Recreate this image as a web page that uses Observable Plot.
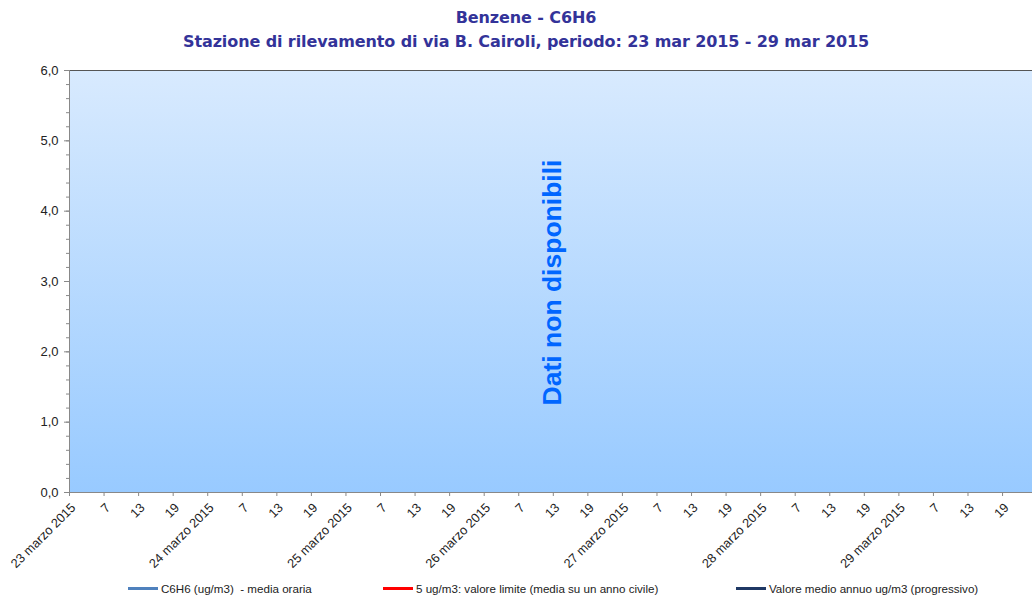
<!DOCTYPE html>
<html>
<head>
<meta charset="utf-8">
<script src="https://cdn.jsdelivr.net/npm/d3@7"></script>
<script src="https://cdn.jsdelivr.net/npm/@observablehq/plot@0.6"></script>
<style>
  html, body { margin: 0; padding: 0; background: #fff; }
  #wrap { width: 1032px; height: 596px; position: relative; overflow: hidden; font-family: "Liberation Sans", Arial, sans-serif; }
  #title { height: 58px; text-align: center; color: #333399; font-family: "DejaVu Sans", sans-serif; font-weight: bold; font-size: 16px; line-height: 24px; padding-top: 6px; padding-left: 20px; box-sizing: border-box; letter-spacing: -0.1px; }
  #legend { position: absolute; top: 582px; left: 0; width: 1032px; height: 16px; font-size: 11.6px; color: #222; }
  .li { position: absolute; top: 0px; display: flex; align-items: center; white-space: pre; }
  .sw { display: inline-block; width: 30px; height: 3px; margin-right: 3px; }
</style>
</head>
<body>
<div id="wrap">
  <div id="title">Benzene - C6H6<br>Stazione di rilevamento di via B. Cairoli, periodo: 23 mar 2015 - 29 mar 2015</div>
  <div id="chart"></div>
  <div id="legend"></div>
</div>
<script>
// ---- data ----
const days = ["23 marzo 2015", "24 marzo 2015", "25 marzo 2015", "26 marzo 2015", "27 marzo 2015", "28 marzo 2015", "29 marzo 2015"];
const hourLabels = ["", "7", "13", "19"];
const yTicks = [0, 1, 2, 3, 4, 5, 6];
const hourlyValues = []; // C6H6 media oraria: dati non disponibili
const limitValues = [];  // valore limite: non tracciato
const annualValues = []; // valore medio annuo: non disponibile
const seriesNames = ["C6H6 (ug/m3)  - media oraria", "5 ug/m3: valore limite (media su un anno civile)", "Valore medio annuo ug/m3 (progressivo)"];
const seriesColors = ["#4f81bd", "#ff0000", "#1f3864"];
const noDataText = "Dati non disponibili";

const xTicks = d3.range(0, days.length * 24, 6);
const xLabel = i => (i % 24 === 0 ? days[i / 24] : hourLabels[(i % 24) / 6]);
const yMinor = d3.range(0, 6.0001, 0.2);

const plot = Plot.plot({
  width: 1032,
  height: 517,
  marginTop: 12,
  marginLeft: 69,
  marginRight: 0,
  marginBottom: 83,
  style: { fontFamily: "Liberation Sans, Arial, sans-serif", fontSize: "12px", color: "#222", background: "transparent" },
  x: { domain: [0, 167.2] },
  y: { domain: [0, 6] },
  marks: [
    Plot.frame({ fill: "url(#bgGrad)", stroke: null }),
    Plot.ruleY([6], { stroke: "#555", strokeWidth: 1.2 }),
    Plot.ruleX([0], { stroke: "#888" }),
    Plot.ruleY([0], { stroke: "#888" }),
    Plot.axisY({ ticks: yMinor, tickFormat: () => "", tickSize: 3, stroke: "#888", label: null }),
    Plot.axisY({ ticks: yTicks, tickFormat: d => d3.format(".1f")(d).replace(".", ","), tickSize: 5, tickPadding: 6, stroke: "#888", label: null, fontSize: 13 }),
    Plot.axisX({ ticks: xTicks, tickFormat: xLabel, tickSize: 4, stroke: "#888", label: null, text: null }),
    Plot.axisX({ ticks: xTicks, tickFormat: xLabel, tickSize: 0, tickRotate: -45, tickPadding: 13, dx: 4, label: null, fontSize: 12.8 }),
    Plot.line(hourlyValues, { x: "hour", y: "value", stroke: seriesColors[0], strokeWidth: 2 }),
    Plot.line(limitValues, { x: "hour", y: "value", stroke: seriesColors[1], strokeWidth: 2 }),
    Plot.line(annualValues, { x: "hour", y: "value", stroke: seriesColors[2], strokeWidth: 2 }),
    Plot.text([noDataText], { frameAnchor: "middle", dx: 2, dy: 1, text: d => d, rotate: -90, fill: "#0066ff", fontSize: 26.5, fontWeight: "bold" })
  ]
});

// gradient definition for plot background
const svgNS = "http://www.w3.org/2000/svg";
const defs = document.createElementNS(svgNS, "defs");
defs.innerHTML = '<linearGradient id="bgGrad" x1="0" y1="0" x2="0" y2="1"><stop offset="0" stop-color="#d8eafe"/><stop offset="1" stop-color="#98caff"/></linearGradient>';
plot.insertBefore(defs, plot.firstChild);
document.getElementById("chart").appendChild(plot);

// legend
const legend = document.getElementById("legend");
const legendX = [128, 383, 736];
seriesNames.forEach((name, i) => {
  const d = document.createElement("div");
  d.className = "li";
  d.style.left = legendX[i] + "px";
  d.innerHTML = `<span class="sw" style="background:${seriesColors[i]}"></span>${name}`;
  legend.appendChild(d);
});
</script>
</body>
</html>
